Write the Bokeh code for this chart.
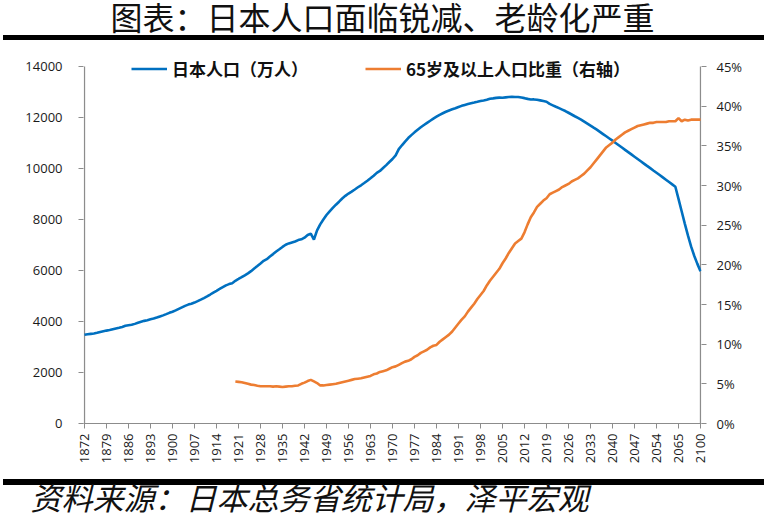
import math
import numpy as np
from bokeh.plotting import figure
from bokeh.models import (Range1d, LinearAxis, FixedTicker, PrintfTickFormatter,
                          Legend, LegendItem, Title, Label)
from bokeh.embed import file_html
from bokeh.resources import INLINE

# ---------------- data ----------------
years = list(range(1872, 2061)) + [2065, 2070, 2075, 2080, 2085, 2090, 2095, 2100]

population = [
    # 1872-1879
    3481, 3500, 3516, 3532, 3557, 3587, 3616, 3643,
    # 1880s
    3665, 3696, 3726, 3755, 3787, 3831, 3851, 3870, 3907, 3951,
    # 1890s
    3990, 4025, 4051, 4086, 4115, 4156, 4199, 4240, 4289, 4340,
    # 1900s
    4385, 4436, 4496, 4555, 4614, 4662, 4696, 4742, 4797, 4855,
    # 1910s
    4918, 4985, 5058, 5136, 5204, 5275, 5348, 5418, 5467, 5503,
    # 1920s
    5596, 5667, 5739, 5812, 5888, 5974, 6074, 6174, 6276, 6379,
    # 1930s
    6445, 6547, 6643, 6743, 6831, 6925, 7011, 7063, 7101, 7138,
    # 1940s
    7193, 7222, 7288, 7390, 7443, 7215, 7575, 7810, 8000, 8177,
    # 1950s
    8320, 8454, 8581, 8698, 8824, 8928, 9017, 9093, 9177, 9264,
    # 1960s
    9342, 9429, 9518, 9616, 9718, 9828, 9904, 10020, 10133, 10254,
    # 1970s
    10372, 10515, 10760, 10910, 11057, 11194, 11309, 11417, 11519, 11616,
    # 1980s
    11706, 11790, 11873, 11954, 12031, 12105, 12166, 12224, 12275, 12321,
    # 1990s
    12361, 12410, 12457, 12494, 12527, 12557, 12586, 12616, 12647, 12667,
    # 2000s
    12693, 12732, 12749, 12769, 12779, 12777, 12790, 12803, 12808, 12803,
    # 2010s
    12806, 12783, 12759, 12730, 12708, 12709, 12693, 12671, 12644, 12617,
    # 2020s
    12532, 12477, 12421, 12366, 12310, 12254, 12186, 12118, 12049, 11981,
    # 2030s
    11913, 11835, 11757, 11679, 11600, 11522, 11436, 11350, 11264, 11178,
    # 2040s
    11092, 11002, 10912, 10822, 10732, 10642, 10552, 10462, 10372, 10282,
    # 2050s
    10192, 10102, 10013, 9923, 9834, 9744, 9652, 9560, 9468, 9376,
    # 2060
    9284,
    # 2065-2100
    8808, 8323, 7841, 7376, 6945, 6580, 6260, 5972,
]

elderly_start_year = 1920
elderly_share = [
    # 1920s
    5.3, 5.25, 5.2, 5.1, 5.0, 4.9, 4.85, 4.75, 4.7, 4.7,
    # 1930s
    4.7, 4.7, 4.65, 4.7, 4.65, 4.6, 4.65, 4.7, 4.7, 4.75,
    # 1940s
    4.8, 5.0, 5.15, 5.35, 5.5, 5.3, 5.1, 4.8, 4.8, 4.85,
    # 1950s
    4.9, 4.95, 5.0, 5.1, 5.2, 5.3, 5.4, 5.5, 5.6, 5.65,
    # 1960s
    5.7, 5.8, 5.9, 6.0, 6.2, 6.3, 6.5, 6.6, 6.7, 6.9,
    # 1970s
    7.1, 7.2, 7.4, 7.6, 7.8, 7.9, 8.1, 8.4, 8.6, 8.9,
    # 1980s
    9.1, 9.3, 9.6, 9.8, 9.9, 10.3, 10.6, 10.9, 11.2, 11.6,
    # 1990s
    12.1, 12.6, 13.1, 13.5, 14.1, 14.6, 15.1, 15.7, 16.2, 16.7,
    # 2000s
    17.4, 18.0, 18.5, 19.0, 19.5, 20.2, 20.8, 21.5, 22.1, 22.7,
    # 2010s
    23.0, 23.3, 24.1, 25.1, 26.0, 26.6, 27.3, 27.7, 28.1, 28.4,
    # 2020s
    28.9, 29.1, 29.3, 29.5, 29.8, 30.0, 30.2, 30.5, 30.7, 30.9,
    # 2030s
    31.2, 31.5, 31.9, 32.3, 32.8, 33.3, 33.8, 34.3, 34.8, 35.1,
    # 2040s
    35.4, 35.8, 36.1, 36.4, 36.7, 36.9, 37.1, 37.3, 37.5, 37.6,
    # 2050s
    37.7, 37.8, 37.9, 37.9, 38.0, 38.0, 38.0, 38.0, 38.1, 38.1,
    # 2060
    38.1,
    # 2065-2100
    38.5, 38.1, 38.3, 38.2, 38.3, 38.3, 38.3, 38.3,
]

left_ticks = [0, 2000, 4000, 6000, 8000, 10000, 12000, 14000]
right_ticks = [0, 5, 10, 15, 20, 25, 30, 35, 40, 45]
label_step = 7

title_text = "图表：日本人口面临锐减、老龄化严重"
source_text = "资料来源：日本总务省统计局，泽平宏观"
legend_pop = "日本人口（万人）"
legend_pct = "65岁及以上人口比重（右轴）"

# ---------------- layout constants (page px) ----------------
BLUE = "#0070C0"
ORANGE = "#ED7D31"
AXIS_GREY = "#8C8C8C"
TICK_FONT = "Open Sans"
CJK = "Noto Sans CJK SC"
W, H = 767, 525
AX_L, AX_R = 84, 700        # where the two value axes sit
TOP_TICK_Y, AX_B = 66, 423  # top tick and the category axis
PAD_PX = 1                  # frame is 1px wider than the axes on each side

n = len(years)
x_pop = np.arange(n)
x_pct = np.arange(len(elderly_share)) + years.index(elderly_start_year)

# the frame reaches the top of the canvas so that the title and legend can
# live inside it; the ranges are stretched so the top ticks land at y=66
stretch = AX_B / (AX_B - TOP_TICK_Y)
pop_top = left_ticks[-1] * stretch
pct_top = right_ticks[-1] * stretch
units_per_px = (n - 1) / (AX_R - AX_L)
x_pad = PAD_PX * units_per_px

# black rules (under the title, above the source) drawn as CSS backgrounds
rules_css = {
    "background-image": "linear-gradient(#000, #000), linear-gradient(#000, #000)",
    "background-size": "761px 5px, 761px 6px",
    "background-position": "3px 35px, 3px 479px",
    "background-repeat": "no-repeat",
}

p = figure(width=W, height=H, output_backend="svg", toolbar_location=None,
           title=None,
           x_range=Range1d(-x_pad, n - 1 + x_pad), y_range=Range1d(0, pop_top),
           min_border_left=AX_L - PAD_PX, min_border_right=W - AX_R - PAD_PX,
           min_border_top=0, min_border_bottom=H - AX_B,
           styles=rules_css)
p.outline_line_color = None
p.xgrid.visible = False
p.ygrid.visible = False
p.border_fill_color = None
p.background_fill_color = None
p.extra_y_ranges = {"pct": Range1d(0, pct_top)}

# value-axis lines, only from 0 up to the top tick
p.segment(x0=[0, n - 1], y0=[0, 0], x1=[0, n - 1], y1=[left_ticks[-1]] * 2,
          line_color=AXIS_GREY, line_width=1.3)

r_pop = p.line(x_pop, population, line_color=BLUE, line_width=2.6)
r_pct = p.line(x_pct, elderly_share, line_color=ORANGE, line_width=2.6,
               y_range_name="pct")

xa = p.xaxis[0]
tick_idx = list(range(0, n, label_step))
xa.ticker = FixedTicker(ticks=tick_idx)
xa.major_label_overrides = {i: str(years[i]) for i in tick_idx}
xa.major_label_orientation = math.pi / 2
xa.major_label_standoff = 5
xa.axis_line_color = AXIS_GREY

ya = p.yaxis[0]
ya.ticker = FixedTicker(ticks=left_ticks)
ya.formatter = PrintfTickFormatter(format="%d")
ya.major_label_standoff = 16
ya.axis_line_color = None

ra = LinearAxis(y_range_name="pct", ticker=FixedTicker(ticks=right_ticks),
                formatter=PrintfTickFormatter(format="%d%%"))
ra.major_label_standoff = 10
ra.axis_line_color = None
p.add_layout(ra, "right")

for ax in (xa, ya, ra):
    ax.major_tick_line_color = AXIS_GREY
    ax.minor_tick_line_color = None
    ax.major_tick_in = 0
    ax.major_tick_out = 5
    ax.major_label_text_font = TICK_FONT
    ax.major_label_text_font_size = "13px"
    ax.major_label_text_color = "#1a1a1a"

legend = Legend(items=[LegendItem(label=legend_pop, renderers=[r_pop]),
                       LegendItem(label=legend_pct, renderers=[r_pct])],
                orientation="horizontal", location=(48, 342),
                glyph_width=36, glyph_height=17, label_height=17,
                label_standoff=5, spacing=57, padding=0, margin=0,
                border_line_color=None, background_fill_alpha=0,
                label_text_font=CJK, label_text_font_size="17px",
                label_text_font_style="bold", label_text_color="#111111")
p.add_layout(legend, "center")

# title inside the (stretched) frame
frame_left = AX_L - PAD_PX
p.add_layout(Label(x=382 - frame_left, y=AX_B - 15, x_units="screen",
                   y_units="screen", text=title_text, text_align="center",
                   text_baseline="middle", text_font=CJK, text_font_size="32px",
                   text_color="#111111"))

# source line below the category axis
src = Title(text=source_text, align="left", offset=30 - frame_left, standoff=10,
            text_font=CJK, text_font_size="31px", text_font_style="italic",
            text_color="#111111")
p.add_layout(src, "below")

open("out.html", "w").write(file_html(p, INLINE))
